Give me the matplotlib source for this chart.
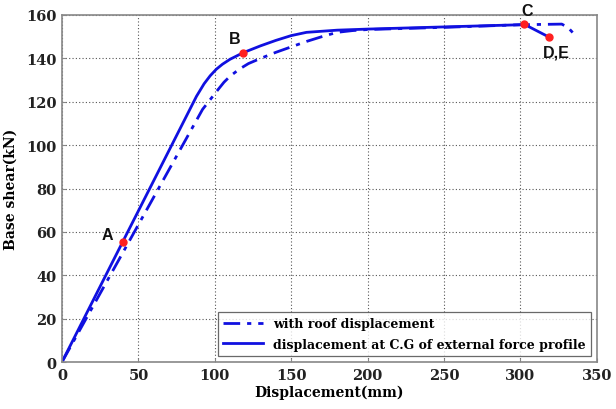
import matplotlib
matplotlib.use("Agg")
import matplotlib.pyplot as plt

# Pushover curves: base shear vs. displacement
roof_x = [0, 92, 97, 102, 106, 110, 116, 122, 130, 140, 150, 160, 170, 180, 190, 200, 250, 300,
          327, 331, 336]
roof_y = [0, 116.5, 121, 125.5, 129, 131.8, 135, 137.6, 140, 142.8, 145.3, 147.8, 150, 152, 152.8,
          153.3, 154.3, 155.5, 155.8, 154.3, 150.5]

cg_x = [0, 39.8, 88, 93, 97, 101, 105, 110, 118.5, 130, 140, 150, 160, 180, 200, 250, 300, 302.5,
        318.7]
cg_y = [0, 55.5, 122.5, 128.3, 132, 135, 137.3, 139.6, 142.6, 145.8, 148.3, 150.5, 152, 153, 153.5,
        154.5, 155.5, 155.7, 149.8]

# Performance points marked on the C.G curve
pt_labels = ["A", "B", "C", "D,E"]
pt_x = [39.8, 118.5, 302.5, 318.7]
pt_y = [55.5, 142.6, 155.7, 149.8]
pt_offsets = [(-11, 5), (-6, 10), (2, 10), (5, -11)]

x_ticks = [0, 50, 100, 150, 200, 250, 300, 350]
y_ticks = [0, 20, 40, 60, 80, 100, 120, 140, 160]

serif = "DejaVu Serif"
blue = "#1010e0"

fig = plt.figure(figsize=(6.16, 4.10), dpi=100)
ax = fig.add_axes([0.1006, 0.1146, 0.8684, 0.8464])

ax.plot(roof_x, roof_y, color=blue, lw=2.0, dashes=(6, 2.5, 1.5, 2.5),
        label="with roof displacement")
ax.plot(cg_x, cg_y, color=blue, lw=2.0,
        label="displacement at C.G of external force profile")

ax.plot(pt_x, pt_y, ls="none", marker="o", ms=5, color="#ff2020", zorder=5)
for lab, x, y, (dx, dy) in zip(pt_labels, pt_x, pt_y, pt_offsets):
    ax.annotate(lab, (x, y), xytext=(dx, dy), textcoords="offset points",
                ha="center", va="center", fontsize=11.5, fontweight="bold",
                family="Liberation Sans", color="#111111")

ax.set_xlim(0, 350)
ax.set_ylim(0, 160)
ax.set_xticks(x_ticks)
ax.set_yticks(y_ticks)
ax.grid(True, color="#555555", ls=(0, (1, 2)), lw=0.8)
ax.tick_params(direction="in", length=3, color="#888888", labelsize=10.5, pad=4)
for lbl in ax.get_xticklabels() + ax.get_yticklabels():
    lbl.set_family(serif)
    lbl.set_fontweight("bold")
    lbl.set_color("#222222")
for sp in ax.spines.values():
    sp.set_color("#888888")
    sp.set_linewidth(1.2)

ax.set_xlabel("Displacement(mm)", family=serif, fontweight="bold", fontsize=10, labelpad=2)
ax.set_ylabel("Base shear(kN)", family=serif, fontweight="bold", fontsize=10, labelpad=6)

leg = ax.legend(loc="lower right", prop={"family": serif, "weight": "bold", "size": 9.0},
                frameon=True, fancybox=False, edgecolor="#444444", handlelength=3.2,
                borderaxespad=0.5, labelspacing=0.6)
leg.get_frame().set_linewidth(0.9)

fig.savefig("out.png", dpi=100)
